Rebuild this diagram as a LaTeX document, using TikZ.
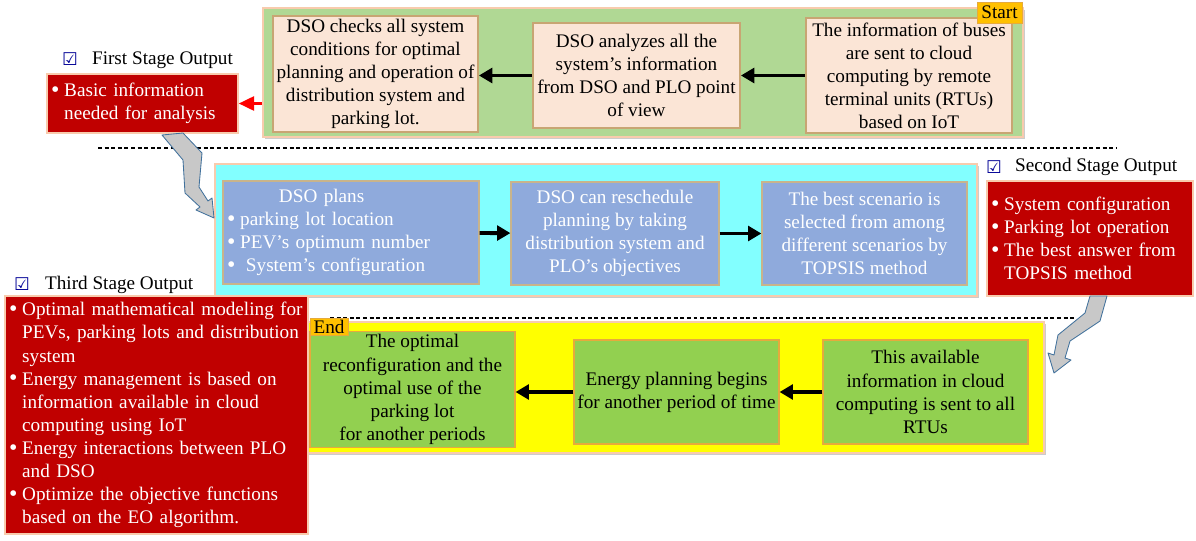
\documentclass[tikz,border=0pt]{standalone}
\usepackage{fontspec}
\setmainfont{Liberation Serif}
\newfontfamily\symfont{DejaVu Sans}
\usetikzlibrary{arrows.meta, shadows}

\definecolor{bandgreen}{RGB}{176,216,148}
\definecolor{bandcyan}{RGB}{130,255,255}
\definecolor{bandyellow}{RGB}{255,255,0}
\definecolor{peach}{RGB}{251,229,214}
\definecolor{peachedge}{RGB}{200,165,115}
\definecolor{glow}{RGB}{248,203,173}
\definecolor{boxblue}{RGB}{143,170,220}
\definecolor{blueedge}{RGB}{200,180,140}
\definecolor{boxgreen}{RGB}{146,208,80}
\definecolor{greenedge}{RGB}{230,170,60}
\definecolor{outred}{RGB}{192,0,0}
\definecolor{tagorange}{RGB}{255,192,0}
\definecolor{checkblue}{RGB}{0,0,150}
\definecolor{bendgray}{RGB}{200,200,200}
\definecolor{bendedge}{RGB}{65,113,156}

\newcommand{\bul}{\makebox[0.68em][l]{\raisebox{-0.6pt}{\fontsize{17}{0}\selectfont\textbullet}}}
\newcommand{\ind}{\hspace*{0.68em}}

\begin{document}
\begin{tikzpicture}[x=0.025cm,y=-0.025cm,
        every node/.style={font=\fontsize{13.65}{16.4}\selectfont, inner sep=2pt},
        band/.style={draw=glow, line width=1.5pt, drop shadow={shadow xshift=1.5pt, shadow yshift=-1.5pt, opacity=0.4}},
        topbox/.style={fill=peach, draw=peachedge, line width=1.3pt, align=center},
        midbox/.style={fill=boxblue, draw=blueedge, line width=0.8pt, text=white, align=center},
        botbox/.style={fill=boxgreen, draw=greenedge, line width=0.8pt, align=center},
        outbox/.style={fill=outred, draw=glow, line width=1pt, text=white, align=left, inner xsep=3pt},
        tag/.style={fill=tagorange, draw=greenedge, line width=0.5pt, inner sep=1pt},
        chk/.style={font=\symfont\bfseries\fontsize{12.5}{12.5}\selectfont, text=checkblue},
        blackarrow/.style={line width=2.8pt, -{Triangle[length=9.5pt,width=10.5pt]}},
        redarrow/.style={red, line width=2pt, -{Triangle[length=11pt,width=10pt]}},
        dashline/.style={line width=1.2pt, dash pattern=on 2.8pt off 1.9pt},
        bendarrow/.style={fill=bendgray, draw=bendedge, line width=0.6pt, line join=round}]
        \useasboundingbox (0,0) rectangle (1196,540);
        \fill[white] (0,0) rectangle (1196,540);

        \draw[band, fill=bandgreen] (263,8) rectangle (1023,137);
        \draw[band, fill=bandcyan] (215,164) rectangle (977,296);
        \draw[band, fill=bandyellow] (305,322) rectangle (1044,453);

        \draw[dashline] (98,148) -- (1117,148);
        \draw[dashline] (330,318) -- (1075,318);

        \node[topbox, minimum width=5.125cm, minimum height=2.8cm] (A) at (375.5,74) {DSO checks all system\\conditions for optimal\\planning and operation of\\distribution system and\\parking lot.};
        \node[topbox, minimum width=5.175cm, minimum height=2.625cm] (B) at (636.5,75.5) {DSO analyzes all the\\system's information\\from DSO and PLO point\\of view};
        \node[topbox, minimum width=5.15cm, minimum height=2.875cm] (C) at (909,75.5) {The information of buses\\are sent to cloud\\computing by remote\\terminal units (RTUs)\\based on IoT};
        \node[tag, minimum width=1.125cm, minimum height=0.525cm] (start) at (999.5,12.5) {Start};

        \node[chk] (chk1) at (70,59) {☑};
        \node[anchor=west] (out1) at (89,60) {First Stage Output};
        \node[outbox, text width=4.565cm, minimum height=1.475cm] (R1) at (142.5,103.5) {\bul Basic information\\\ind needed for analysis};

        \node[midbox, text width=6.19cm, minimum height=2.575cm, align=left, inner xsep=3pt] (D) at (351,232.5) {\hspace*{2.7em}DSO plans\\\bul parking lot location\\\bul PEV's optimum number\\\bul\hspace{0.3em}System's configuration};
        \node[midbox, minimum width=5.2cm, minimum height=2.575cm] (E) at (615,233.5) {DSO can reschedule\\planning by taking\\distribution system and\\PLO's objectives};
        \node[midbox, minimum width=5.125cm, minimum height=2.575cm] (F) at (864.5,233.5) {The best scenario is\\selected from among\\different scenarios by\\TOPSIS method};

        \node[chk] (chk2) at (994,167) {☑};
        \node[anchor=west] (out2) at (1012,167) {Second Stage Output};
        \node[outbox, text width=4.94cm, minimum height=2.875cm] (R2) at (1090,238.5) {\bul System configuration\\\bul Parking lot operation\\\bul The best answer from\\\ind TOPSIS method};

        \node[botbox, minimum width=5.125cm, minimum height=2.825cm] (G) at (412.5,389.5) {The optimal\\reconfiguration and the\\optimal use of the\\parking lot\\for another periods};
        \node[botbox, minimum width=5.125cm, minimum height=2.6cm] (H) at (676.5,392) {Energy planning begins\\for another period of time};
        \node[botbox, minimum width=5.125cm, minimum height=2.6cm] (I) at (925.5,392) {This available\\information in cloud\\computing is sent to all\\RTUs};

        \node[chk] (chk3) at (22,284) {☑};
        \node[anchor=west] (out3) at (42,285) {Third Stage Output};
        \node[outbox, text width=7.365cm, minimum height=5.95cm] (R3) at (156.5,415) {\bul Optimal mathematical modeling for\\\ind PEVs, parking lots and distribution\\\ind system\\\bul Energy management is based on\\\ind information available in cloud\\\ind computing using IoT\\\bul Energy interactions between PLO\\\ind and DSO\\\bul Optimize the objective functions\\\ind based on the EO algorithm.};
        \node[tag, minimum width=0.95cm, minimum height=0.425cm] (end) at (329,326.5) {End};

        \draw[blackarrow] (C) -- (B);
        \draw[blackarrow] (B.west) -- (A.east |- B.west);
        \draw[redarrow, shorten <=0.25cm] (A.west |- R1.east) -- (R1.east);
        \draw[blackarrow] (D) -- (E);
        \draw[blackarrow] (E) -- (F);
        \draw[blackarrow] (I) -- (H);
        \draw[blackarrow] (H.west) -- (G.east |- H.west);

        \filldraw[bendarrow] (162,135) -- (183,133) -- (202,153) -- (199,187) -- (208,201) -- (212,198) -- (214,218) -- (196,210) -- (200,207) -- (185,193) -- (183,160) -- cycle;
        \filldraw[bendarrow] (1090,296) -- (1107,296) -- (1100,321) -- (1070,341) -- (1065,358) -- (1071,360) -- (1054,373) -- (1048,353) -- (1054,355) -- (1058,335) -- (1085,313) -- cycle;
      \end{tikzpicture}
\end{document}
